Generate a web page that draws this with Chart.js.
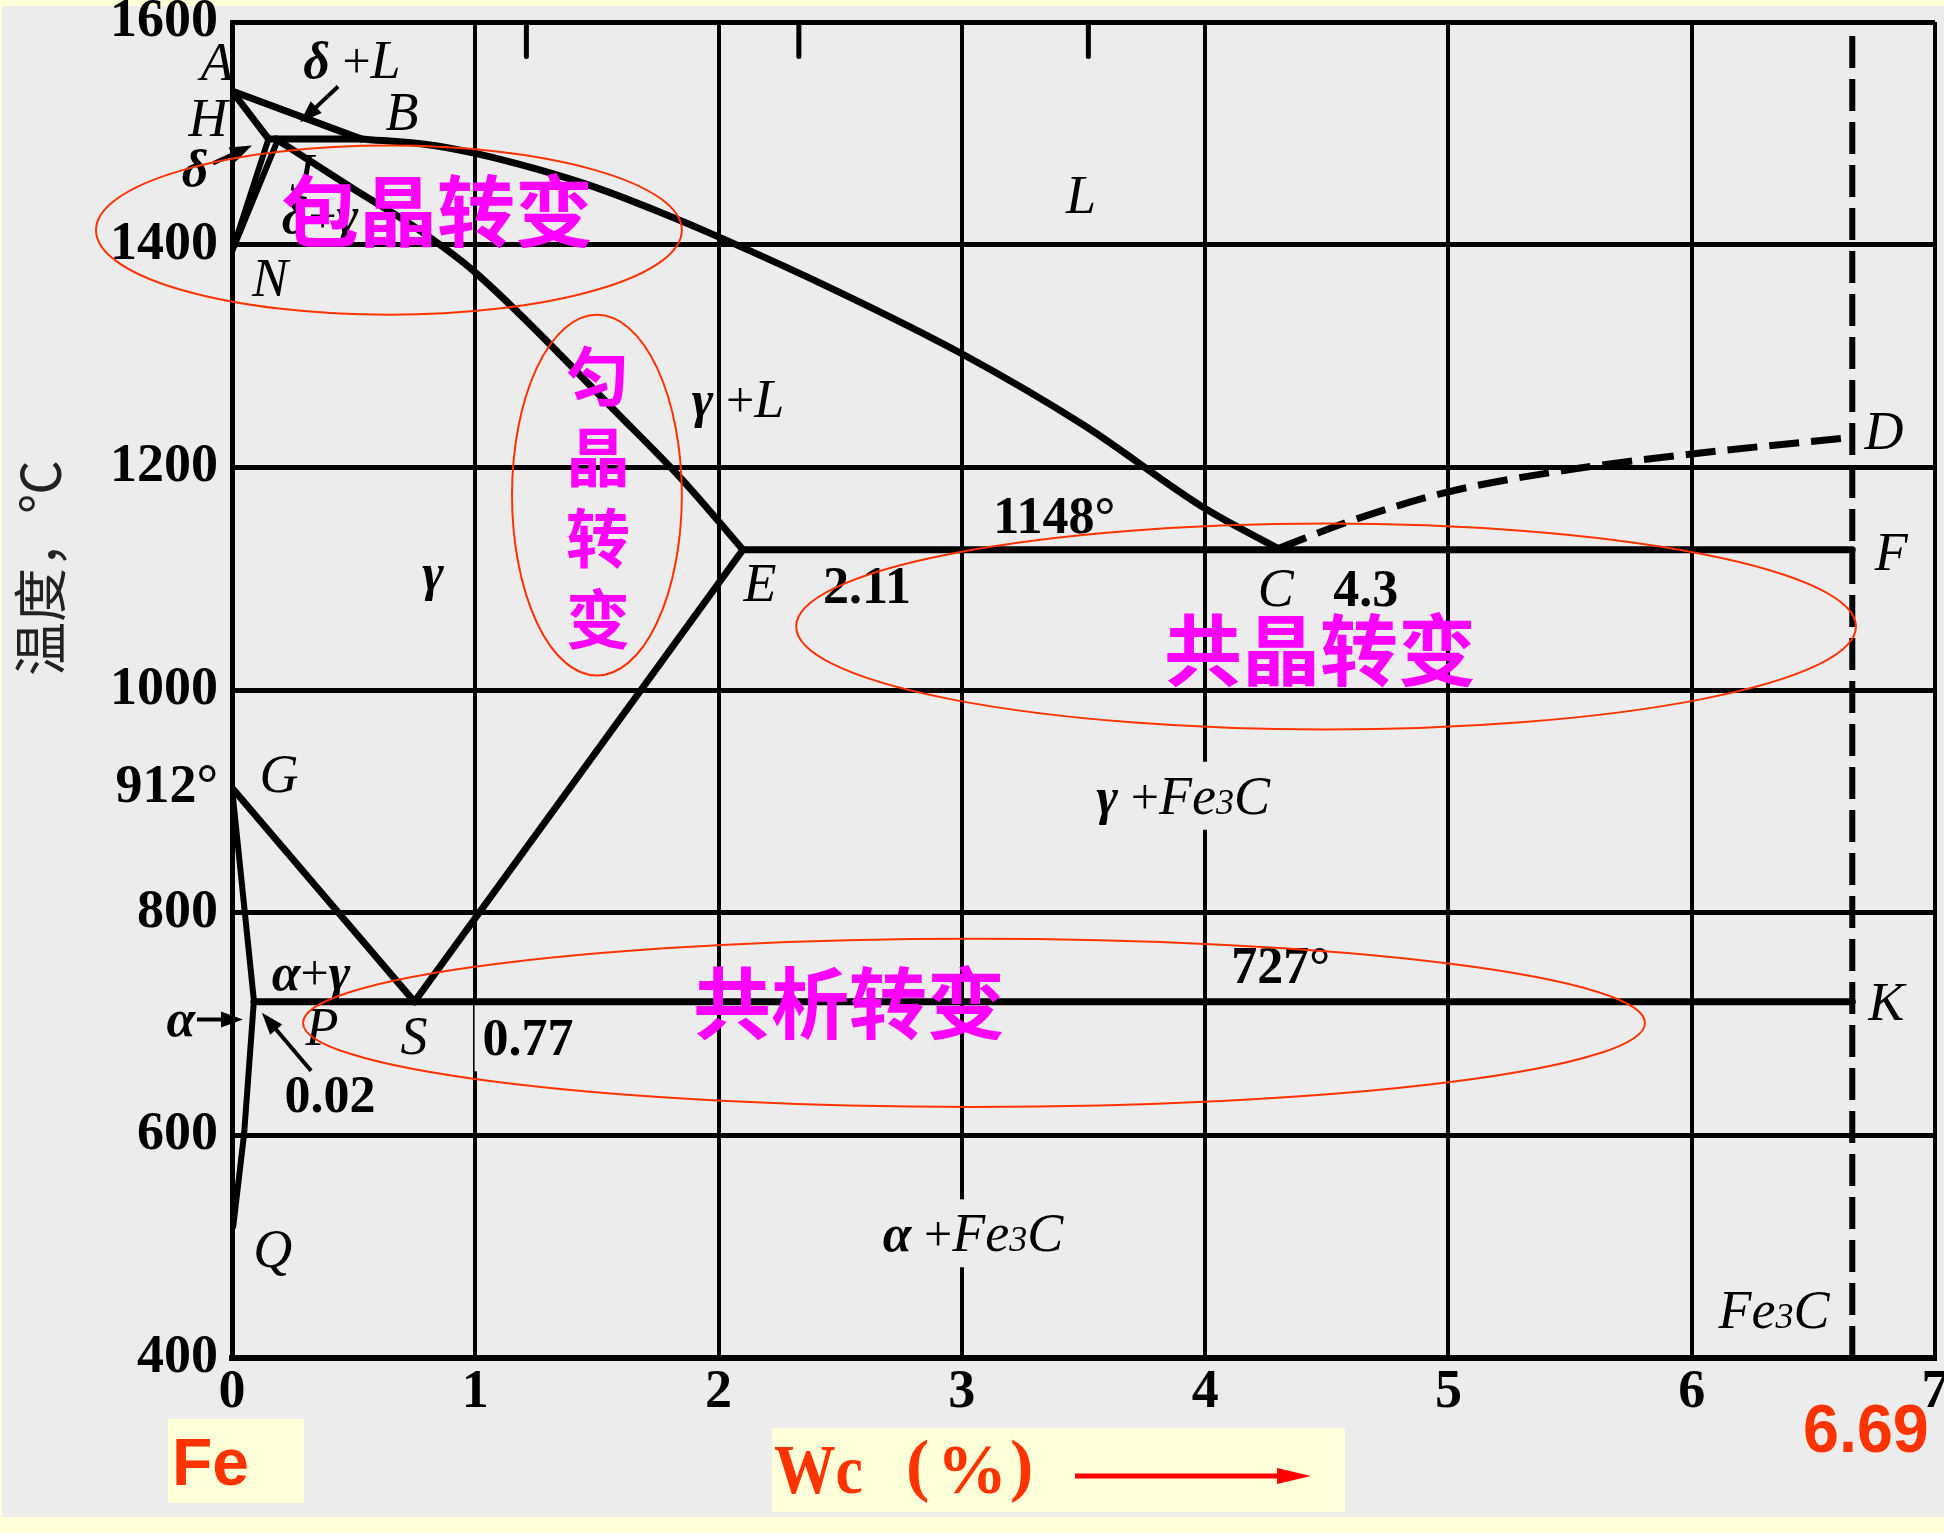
<!DOCTYPE html>
<html>
<head>
<meta charset="utf-8">
<title>铁碳相图</title>
<script src="https://cdn.jsdelivr.net/npm/chart.js@4.4.1/dist/chart.umd.min.js"></script>
<style>
  html, body { margin: 0; padding: 0; background: #ececec; }
  canvas { display: block; }
</style>
</head>
<body>
<canvas id="feC" width="1944" height="1533"></canvas>
<script>
// 坐标刻度
const xTicks = [0, 1, 2, 3, 4, 5, 6, 7];
const yTicks = [400, 600, 800, 1000, 1200, 1400, 1600];
const tick912 = 912;

// 相界线 [Wc %, 温度 °C]
const lineAB = [[0, 1538], [0.53, 1495]];
const lineBC = [[0.53, 1495], [0.8, 1490], [1.0, 1482], [1.25, 1468], [1.5, 1451], [1.75, 1430],
                [2.0, 1407], [2.5, 1357], [3.0, 1302], [3.5, 1238], [4.0, 1163], [4.3, 1127]];
const lineAH = [[0, 1538], [0.15, 1495]];
const lineHB = [[0.15, 1495], [0.53, 1495]];
const lineHN = [[0.15, 1495], [0, 1394]];
const lineJN = [[0.19, 1495], [0, 1394]];
const lineJE = [[0.18, 1495], [0.5, 1450], [0.77, 1413], [1.0, 1375], [1.6, 1245], [1.85, 1189], [2.1, 1126]];
const lineECF = [[2.1, 1126], [6.66, 1126]];
const lineES = [[2.1, 1126], [0.75, 720]];
const lineCD = [[4.3, 1127], [4.6, 1152], [5.0, 1178], [5.5, 1198], [6.0, 1212], [6.66, 1227]];
const lineFe3C = [[6.66, 400], [6.66, 1600]];
const lineGS = [[0, 912], [0.75, 720]];
const lineGP = [[0, 912], [0.09, 721]];
const linePQ = [[0.09, 721], [0.05, 602], [0.005, 518]];
const linePSK = [[0.09, 720], [6.66, 720]];
const topStubs = [1.21, 2.33, 3.52];

// 文字标注
const I = 'italic 54px "Liberation Serif"';
const G = 'bold italic 52px "Liberation Serif"';
const PL = '50px "Liberation Serif"';
const SUB = 'italic 36px "Liberation Serif"';
const NUM = 'bold 52px "Liberation Serif"';

const labels = [
  [-0.062, 1564, [['A', I]]],
  [0.493, 1566, [['δ', G], [' +', PL], ['L', I]]],
  [-0.099, 1514, [['H', I]]],
  [0.699, 1519, [['B', I]]],
  [-0.152, 1469, [['δ', G]]],
  [0.288, 1464, [['J', I]]],
  [0.362, 1427, [['δ', G], ['+', PL], ['γ', G]]],
  [0.156, 1370, [['N', I]]],
  [3.49, 1445, [['L', I]]],
  [2.08, 1261, [['γ', G], [' +', PL], ['L', I]]],
  [0.826, 1106, [['γ', G]]],
  [3.38, 1157, [['1148°', NUM]]],
  [2.17, 1096, [['E', I]]],
  [2.61, 1094, [['2.11', NUM]]],
  [4.29, 1092, [['C', I]]],
  [4.66, 1092, [['4.3', NUM]]],
  [6.79, 1233, [['D', I]]],
  [6.82, 1124, [['F', I]]],
  [0.193, 925, [['G', I]]],
  [3.91, 905, [['γ', G], [' +', PL], ['Fe', I], ['3', SUB], ['C', I]], true],
  [0.325, 747, [['α', G], ['+', PL], ['γ', G]]],
  [4.31, 753, [['727°', NUM]]],
  [0.37, 697, [['P', I]]],
  [0.748, 689, [['S', I]]],
  [1.217, 688, [['0.77', NUM]], true],
  [0.403, 637, [['0.02', NUM]]],
  [6.80, 720, [['K', I]]],
  [0.168, 498, [['Q', I]]],
  [3.046, 512, [['α', G], [' +', PL], ['Fe', I], ['3', SUB], ['C', I]], true],
  [6.338, 443, [['Fe', I], ['3', SUB], ['C', I]], true],
  [-0.21, 705, [['α', G]]]
];

// 箭头: 起点 -> 箭头端
const arrows = [
  [0.436, 1542, 0.28, 1510],
  [-0.078, 1473, 0.082, 1489],
  [-0.144, 704, 0.045, 704],
  [0.325, 658, 0.123, 710]
];

// 红色椭圆 [cx, cy, rx, ry]（数据单位）
const ellipses = [
  [0.645, 1413, 1.204, 76],
  [1.50, 1175, 0.349, 162],
  [4.497, 1057, 2.178, 92.5],
  [3.05, 701, 2.758, 75.5]
];

const toPts = a => a.map(p => ({ x: p[0], y: p[1] }));
function phase(data, opts) {
  return Object.assign({
    data: toPts(data), showLine: true, borderColor: '#000', borderWidth: 7,
    pointRadius: 0, fill: false, tension: 0, borderCapStyle: 'round', borderJoinStyle: 'round'
  }, opts || {});
}

function drawRich(ctx, parts, cx, cy, bg) {
  let w = 0;
  parts.forEach(p => { ctx.font = p[1]; w += ctx.measureText(p[0]).width; });
  if (bg) {
    ctx.fillStyle = '#ececec';
    ctx.fillRect(cx - w / 2 - 8, cy - 34, w + 16, 68);
  }
  let x = cx - w / 2;
  const base = cy + 18;
  ctx.fillStyle = '#000';
  ctx.textAlign = 'left';
  ctx.textBaseline = 'alphabetic';
  parts.forEach(p => {
    ctx.font = p[1];
    ctx.fillText(p[0], x, base);
    x += ctx.measureText(p[0]).width;
  });
}

function arrow(ctx, x1, y1, x2, y2) {
  const a = Math.atan2(y2 - y1, x2 - x1);
  ctx.strokeStyle = '#000';
  ctx.lineWidth = 4;
  ctx.beginPath();
  ctx.moveTo(x1, y1);
  ctx.lineTo(x2 - 14 * Math.cos(a), y2 - 14 * Math.sin(a));
  ctx.stroke();
  ctx.fillStyle = '#000';
  ctx.beginPath();
  ctx.moveTo(x2, y2);
  ctx.lineTo(x2 - 22 * Math.cos(a) + 8 * Math.sin(a), y2 - 22 * Math.sin(a) - 8 * Math.cos(a));
  ctx.lineTo(x2 - 22 * Math.cos(a) - 8 * Math.sin(a), y2 - 22 * Math.sin(a) + 8 * Math.cos(a));
  ctx.closePath();
  ctx.fill();
}

const phasePlugin = {
  id: 'phase',
  beforeDraw(chart) {
    const ctx = chart.ctx;
    ctx.save();
    ctx.fillStyle = '#ececec';
    ctx.fillRect(0, 0, chart.width, chart.height);
    // 幻灯片底色条
    ctx.fillStyle = '#ffffd8';
    ctx.fillRect(0, 0, chart.width, 6);
    ctx.fillRect(0, 1517, chart.width, 16);
    ctx.fillRect(0, 0, 2, chart.height);
    ctx.restore();
  },
  beforeDatasetsDraw(chart) {
    const ctx = chart.ctx, xs = chart.scales.x, ys = chart.scales.y;
    ctx.save();
    labels.forEach(l => drawRich(ctx, l[2], xs.getPixelForValue(l[0]), ys.getPixelForValue(l[1]), l[3]));
    ctx.restore();
  },
  afterDatasetsDraw(chart) {
    const ctx = chart.ctx, xs = chart.scales.x, ys = chart.scales.y;
    const px = v => xs.getPixelForValue(v), py = v => ys.getPixelForValue(v);
    ctx.save();
    arrows.forEach(a => arrow(ctx, px(a[0]), py(a[1]), px(a[2]), py(a[3])));

    // 红色椭圆
    ctx.strokeStyle = '#ff3300';
    ctx.lineWidth = 2;
    ellipses.forEach(e => {
      const cx = px(e[0]), cy = py(e[1]);
      const rx = Math.abs(px(e[0] + e[2]) - cx), ry = Math.abs(py(e[1] + e[3]) - cy);
      ctx.beginPath();
      ctx.ellipse(cx, cy, rx, ry, 0, 0, Math.PI * 2);
      ctx.stroke();
    });

    // 洋红色说明文字
    ctx.fillStyle = '#ff00ff';
    ctx.textAlign = 'center';
    ctx.textBaseline = 'middle';
    ctx.font = 'bold 78px "Noto Sans CJK SC"';
    ctx.fillText('包晶转变', 437, 211);
    ctx.fillText('共晶转变', 1320, 650);
    ctx.fillText('共析转变', 849, 1003);
    ctx.font = 'bold 64px "Noto Sans CJK SC"';
    ['匀', '晶', '转', '变'].forEach((c, i) => ctx.fillText(c, 598, 376 + i * 81));
    ctx.restore();
  },
  afterDraw(chart) {
    const ctx = chart.ctx;
    ctx.save();
    ctx.fillStyle = '#ffffd8';
    ctx.fillRect(168, 1419, 136, 84);
    ctx.fillRect(772, 1428, 573, 84);

    ctx.fillStyle = '#ff3300';
    ctx.textAlign = 'left';
    ctx.textBaseline = 'alphabetic';
    ctx.font = 'bold 66px "Liberation Sans"';
    ctx.fillText('Fe', 172, 1485);

    ctx.font = 'bold 70px "Liberation Serif"';
    ctx.save();
    ctx.translate(774, 1493);
    ctx.scale(0.88, 1);
    ctx.fillText('Wc', 0, 0);
    ctx.restore();
    ctx.fillText('(', 906, 1488);
    ctx.fillText('%', 937, 1493);
    ctx.fillText(')', 1010, 1488);

    ctx.save();
    ctx.translate(1803, 1452);
    ctx.scale(0.95, 1);
    ctx.font = 'bold 68px "Liberation Sans"';
    ctx.fillText('6.69', 0, 0);
    ctx.restore();

    ctx.strokeStyle = '#ff0000';
    ctx.fillStyle = '#ff0000';
    ctx.lineWidth = 5;
    ctx.beginPath();
    ctx.moveTo(1075, 1476);
    ctx.lineTo(1285, 1476);
    ctx.stroke();
    ctx.beginPath();
    ctx.moveTo(1311, 1476);
    ctx.lineTo(1277, 1468);
    ctx.lineTo(1277, 1484);
    ctx.closePath();
    ctx.fill();

    // 纵轴标题
    ctx.translate(40, 568);
    ctx.rotate(-Math.PI / 2);
    ctx.fillStyle = '#222';
    ctx.textAlign = 'center';
    ctx.textBaseline = 'middle';
    ctx.font = '54px "Noto Sans CJK SC"';
    ctx.fillText('温度，℃', 0, 0);
    ctx.restore();
  }
};

const tickFont = { family: 'Liberation Serif', weight: 'bold', size: 54 };

const datasets = [
  phase(lineAB),
  phase(lineBC, { cubicInterpolationMode: 'monotone' }),
  phase(lineAH),
  phase(lineHB),
  phase(lineHN, { borderWidth: 6 }),
  phase(lineJN, { borderWidth: 6 }),
  phase(lineJE, { cubicInterpolationMode: 'monotone' }),
  phase(lineECF),
  phase(lineES),
  phase(lineCD, { borderDash: [30, 12], borderCapStyle: 'butt', cubicInterpolationMode: 'monotone' }),
  phase(lineFe3C, { borderDash: [32, 11], borderWidth: 6, borderCapStyle: 'butt' }),
  phase(lineGS),
  phase(lineGP, { borderWidth: 6 }),
  phase(linePQ, { borderWidth: 6 }),
  phase(linePSK)
].concat(topStubs.map(x => phase([[x, 1600], [x, 1569]], { borderWidth: 5 })));

new Chart(document.getElementById('feC'), {
  type: 'scatter',
  data: { datasets: datasets },
  plugins: [phasePlugin],
  options: {
    responsive: false,
    animation: false,
    devicePixelRatio: 1,
    layout: { padding: { top: 22, right: 9, bottom: 0, left: 0 } },
    plugins: { legend: { display: false }, tooltip: { enabled: false } },
    scales: {
      x: {
        type: 'linear', min: 0, max: 7,
        afterBuildTicks: s => { s.ticks = xTicks.map(v => ({ value: v })); },
        grid: { color: '#000', lineWidth: 4, drawTicks: false },
        border: { color: '#000', width: 6 },
        ticks: { color: '#000', font: tickFont, padding: 3, maxRotation: 0, autoSkip: false, callback: v => String(v) },
        afterFit: s => { s.height = 175; s.paddingLeft = 0; s.paddingRight = 0; }
      },
      y: {
        type: 'linear', min: 400, max: 1600,
        afterBuildTicks: s => { s.ticks = yTicks.concat([tick912]).sort((a, b) => a - b).map(v => ({ value: v })); },
        grid: { color: c => (c.tick && c.tick.value === tick912) ? 'rgba(0,0,0,0)' : '#000', lineWidth: 5, drawTicks: false },
        border: { color: '#000', width: 5 },
        ticks: { color: '#000', font: tickFont, padding: 14, autoSkip: false, callback: v => v === tick912 ? '912°' : String(v) },
        afterFit: s => { s.width = 232; s.paddingTop = 0; s.paddingBottom = 0; }
      }
    }
  }
});
</script>
</body>
</html>
